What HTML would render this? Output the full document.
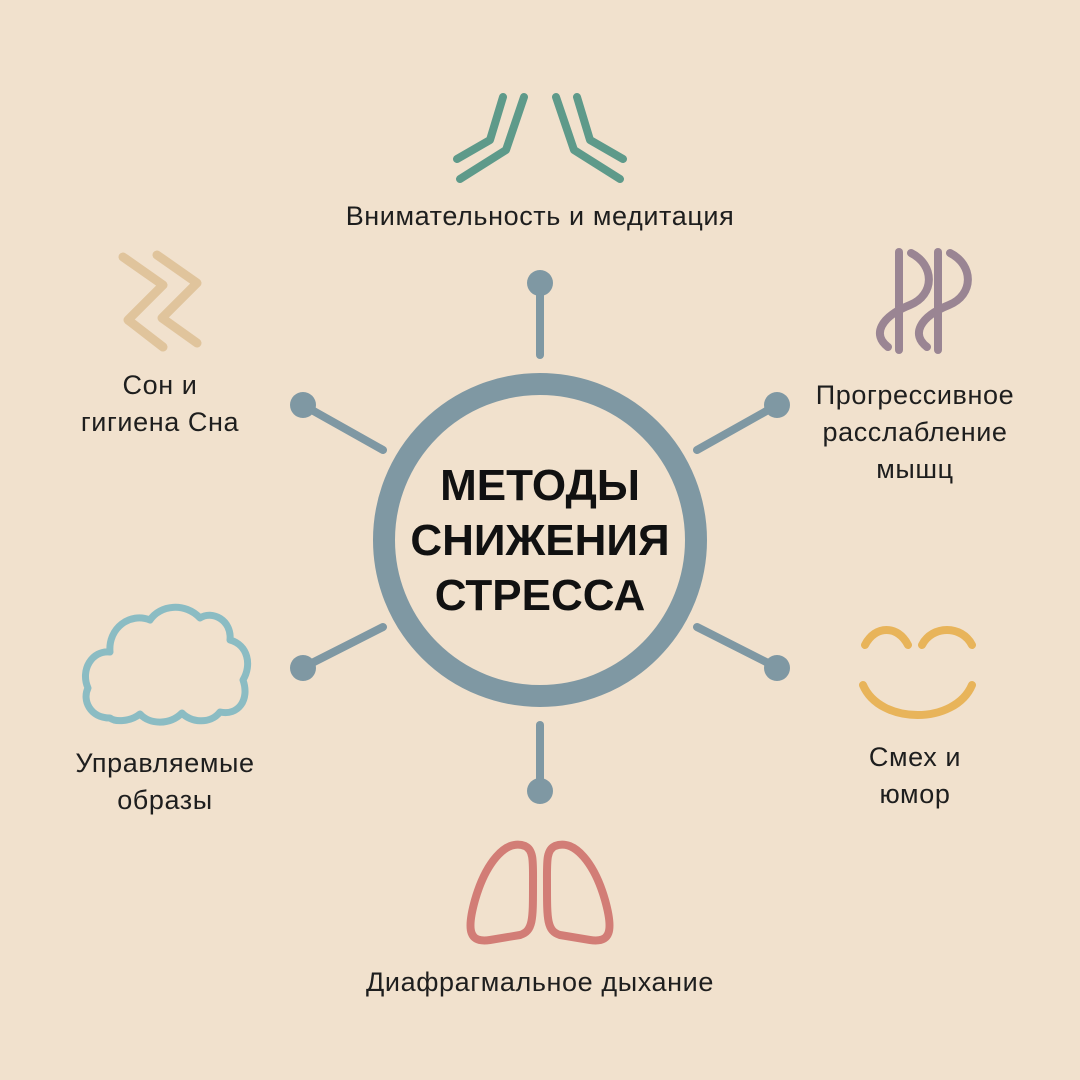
<!DOCTYPE html>
<html><head><meta charset="utf-8"><style>
html,body{margin:0;padding:0}
body{width:1080px;height:1080px;background:#f1e1cd;position:relative;overflow:hidden;font-family:"Liberation Sans",sans-serif;color:#1e1e1e}
.t{position:absolute;font-size:27px;letter-spacing:0.6px;line-height:37px;text-align:center;white-space:nowrap}
.title{position:absolute;left:340px;width:400px;top:458px;text-align:center;font-weight:bold;font-size:44px;line-height:55px;color:#111}
svg{position:absolute;left:0;top:0}
</style></head><body>
<svg width="1080" height="1080" viewBox="0 0 1080 1080" fill="none" stroke-linecap="round" stroke-linejoin="round">
<g stroke="#7f98a3">
<circle cx="540" cy="540" r="156" stroke-width="22"/>
<g stroke-width="8">
<line x1="540" y1="290" x2="540" y2="355"/>
<line x1="540" y1="725" x2="540" y2="785"/>
<line x1="310" y1="409" x2="383" y2="450"/>
<line x1="770" y1="409" x2="697" y2="450"/>
<line x1="310" y1="664" x2="383" y2="627"/>
<line x1="770" y1="664" x2="697" y2="627"/>
</g>
</g>
<g fill="#7f98a3">
<circle cx="540" cy="283" r="13"/><circle cx="540" cy="791" r="13"/>
<circle cx="303" cy="405" r="13"/><circle cx="777" cy="405" r="13"/>
<circle cx="303" cy="668" r="13"/><circle cx="777" cy="668" r="13"/>
</g>
<g stroke="#5e9a8a" stroke-width="8">
<polyline points="503,97 490,140 457,159"/>
<polyline points="524,97 506,150 460,179"/>
<polyline points="577,97 590,140 623,159"/>
<polyline points="556,97 574,150 620,179"/>
</g>
<g stroke="#e0c49c" stroke-width="9">
<polyline points="123,257 163,285 128,320 163,347"/>
<polyline points="157,255 197,283 162,318 197,343"/>
</g>
<g stroke="#9a8593" stroke-width="8">
<line x1="899" y1="252" x2="899" y2="350"/>
<line x1="938" y1="252" x2="938" y2="350"/>
<path d="M911,253 C935,265 935,295 910,305 C880,317 872,335 888,347"/>
<path d="M950,253 C974,265 974,295 949,305 C919,317 911,335 927,347"/>
</g>
<path stroke="#8bbcc3" stroke-width="7" d="M110,718 C90,718 82,700 88,688 C80,670 92,650 110,652 C108,628 130,612 150,620 C160,605 185,602 200,618 C212,610 232,620 230,640 C248,645 252,665 243,680 C250,700 238,716 220,712 C210,725 190,722 182,713 C170,725 150,725 140,714 C130,722 115,722 110,718 Z"/>
<g stroke="#d27d76" stroke-width="8">
<path d="M525,846 C505,838 485,865 475,900 C466,932 470,943 490,940 L520,935 C533,931 533,920 533,885 C533,862 534,850 525,846 Z"/>
<path d="M555,846 C575,838 595,865 605,900 C614,932 610,943 590,940 L560,935 C547,931 547,920 547,885 C547,862 546,850 555,846 Z"/>
</g>
<g stroke="#e8b45a" stroke-width="8">
<path d="M865,645 C875,625 898,625 908,645"/>
<path d="M922,645 C932,625 962,625 972,645"/>
<path d="M863,685 C880,725 955,725 972,685"/>
</g>
</svg>
<div class="t" style="left:240px;width:600px;top:198px">Внимательность и медитация</div>
<div class="t" style="left:30px;width:260px;top:367px">Сон и<br>гигиена Сна</div>
<div class="t" style="left:780px;width:270px;top:377px">Прогрессивное<br>расслабление<br>мышц</div>
<div class="t" style="left:30px;width:270px;top:745px">Управляемые<br>образы</div>
<div class="t" style="left:800px;width:230px;top:739px">Смех и<br>юмор</div>
<div class="t" style="left:240px;width:600px;top:964px">Диафрагмальное дыхание</div>
<div class="title">МЕТОДЫ<br>СНИЖЕНИЯ<br>СТРЕССА</div>
</body></html>
